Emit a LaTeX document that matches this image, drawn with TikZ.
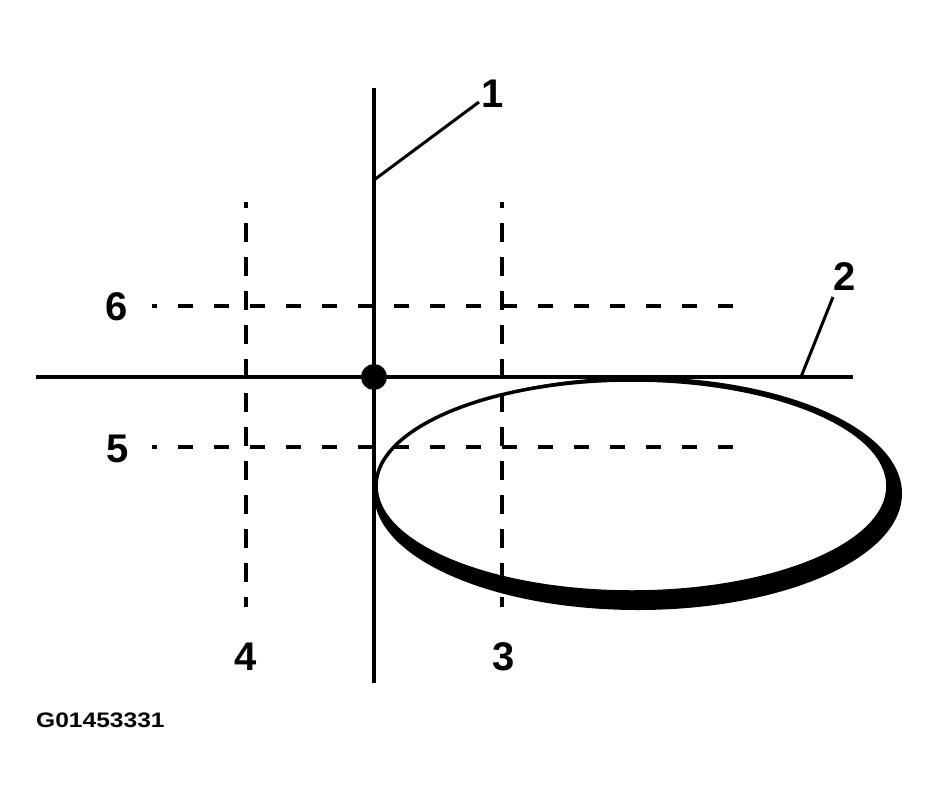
\documentclass[tikz,border=0pt]{standalone}
\usepackage{fontspec}
\setmainfont{Liberation Sans}
\begin{document}
\begin{tikzpicture}[x=1pt,y=-1pt,
  solidline/.style={line width=3.5pt},
  dashline/.style={line width=3.5pt, dash pattern=on 15pt off 21pt, dash phase=10pt},
  vdashline/.style={line width=3.5pt, dash pattern=on 19pt off 15pt, dash phase=13pt},
  lbl/.style={font=\fontsize{40}{40}\selectfont\bfseries, inner sep=0pt},
  leader/.style={line width=3pt}]
\useasboundingbox (0,0) rectangle (940,803);
% ellipse with shadow
\fill[black] (638,493.5) ellipse [x radius=264, y radius=116.5];
\filldraw[fill=white, draw=black, line width=3.5pt] (632,486) ellipse [x radius=256, y radius=106];
% coordinates
\coordinate (vtop) at (374,88);
\coordinate (vbot) at (374,683);
\coordinate (hleft) at (36,377);
\coordinate (hright) at (853,377);
\coordinate (d6a) at (152,306);
\coordinate (d6b) at (735,306);
\coordinate (d5a) at (152,447);
\coordinate (d5b) at (735,447);
\coordinate (d4a) at (246,202);
\coordinate (d4b) at (246,607);
\coordinate (d3a) at (502,202);
\coordinate (d3b) at (502,607);
\coordinate (l1a) at (374,180);
\coordinate (l1b) at (479,102);
\coordinate (l2a) at (801,377);
\coordinate (l2b) at (833,297);
% dashed lines
\draw[dashline] (d6a) -- (d6b);
\draw[dashline] (d5a) -- (d5b);
\draw[vdashline] (d4a) -- (d4b);
\draw[vdashline] (d3a) -- (d3b);
% solid lines
\draw[solidline] (vtop) -- (vbot);
\draw[solidline] (hleft) -- (hright);
\fill (374,377) circle [radius=13];
\draw[leader] (l1a) -- (l1b);
\draw[leader] (l2a) -- (l2b);
% labels
\node[lbl] (n1) at (493,94) {1};
\node[lbl] (n2) at (845,277) {2};
\node[lbl] (n3) at (504,657) {3};
\node[lbl] (n4) at (246,657) {4};
\node[lbl] (n5) at (118,449) {5};
\node[lbl] (n6) at (117,307) {6};
\node[font=\fontsize{21}{21}\selectfont\bfseries, inner sep=0pt, anchor=west] (cap) at (36,720) {\scalebox{1.17}[1]{G01453331}};
\end{tikzpicture}
\end{document}
